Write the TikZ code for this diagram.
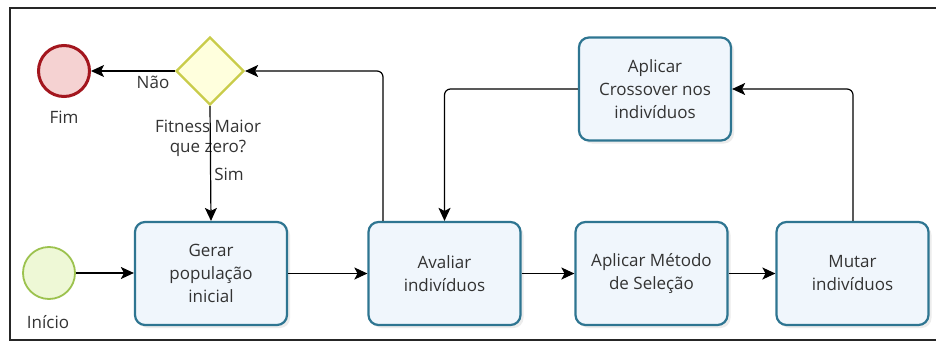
\documentclass[tikz,border=0pt]{standalone}
\usepackage{fontspec}
\setmainfont{Open Sans}
\usetikzlibrary{shapes.geometric,arrows.meta,shadows}
\definecolor{boxborder}{HTML}{2E7591}
\definecolor{boxfill}{HTML}{F0F6FC}
\definecolor{endborder}{HTML}{A3161E}
\definecolor{endfill}{HTML}{F5D2D2}
\definecolor{startborder}{HTML}{9CC24E}
\definecolor{startfill}{HTML}{EEF8D6}
\definecolor{gateborder}{HTML}{C9CC4A}
\definecolor{gatefill}{HTML}{FFFFDD}
\definecolor{txt}{HTML}{333333}
\tikzset{
  task/.style={draw=boxborder, line width=2.2pt, fill=boxfill, rounded corners=10pt,
    minimum width=152pt, minimum height=103pt, align=center, text=txt,
    font=\fontsize{17}{23}\selectfont,
    drop shadow={shadow xshift=3pt, shadow yshift=-3pt, fill=black!12, opacity=0.6}},
  endev/.style={circle, draw=endborder, line width=3pt, fill=endfill, minimum size=51pt, inner sep=0pt},
  startev/.style={circle, draw=startborder, line width=1.8pt, fill=startfill, minimum size=52pt, inner sep=0pt},
  gate/.style={diamond, draw=gateborder, line width=2.2pt, fill=gatefill, minimum width=68pt, minimum height=68pt, inner sep=0pt},
  flow/.style={draw=black, line width=1.2pt, -{Stealth[length=13pt,width=12pt,inset=3pt]}, rounded corners=6pt},
  lbl/.style={text=txt, font=\fontsize{17}{20}\selectfont, align=center, inner sep=0pt},
}
\begin{document}
\begin{tikzpicture}[x=1pt, y=-1pt]
\useasboundingbox (0,0) rectangle (936,342);
\fill[white] (0,0) rectangle (936,342);
% frame
\draw[line width=1.5pt, black!85] (936,8) -- (10,8) -- (10,340) -- (936,340);

% nodes
\node[endev] (fim) at (64,71) {};
\node[lbl] (fiml) at (64,117) {Fim};
\node[gate] (gw) at (210,71) {};
\node[startev] (ini) at (49,273) {};
\node[lbl] (inil) at (48,322) {Início};

\node[task] (gerar) at (211,273.5) {Gerar\\população\\inicial};
\node[task] (aval) at (444.5,273.5) {Avaliar\\indivíduos};
\node[task] (sel) at (651.5,273.5) {Aplicar Método\\de Seleção};
\node[task] (mut) at (852.5,273.5) {Mutar\\indivíduos};
\node[task] (cross) at (655,89) {Aplicar\\Crossover nos\\indivíduos};

% labels
\node[lbl] (nao) at (153,82) {Não};
\node[lbl] (fit) at (208,138) {Fitness Maior\\que zero?};
\node[lbl] (sim) at (229,174) {Sim};

% connectors
\draw[flow] (ini.east) -- (ini.east -| gerar.west);
\draw[flow] (gerar.east) -- (aval.west);
\draw[flow] (aval.east) -- (sel.west);
\draw[flow] (sel.east) -- (mut.west);
\draw[flow] (mut.north -| 853,0) |- (cross.east);
\draw[flow] (cross.west) -| (aval.north);
\draw[flow] (aval.north -| 383,0) |- (gw.east);
\draw[flow] (gw.west) -- (fim.east);
\draw[flow] (gw.south) -- (gerar.north);
\end{tikzpicture}
\end{document}
